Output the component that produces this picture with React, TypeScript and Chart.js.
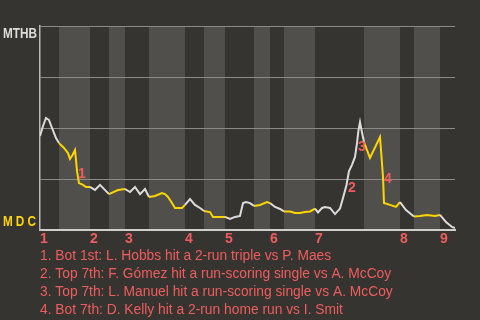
import React, { useEffect, useRef } from "react";
import { Chart, registerables } from "chart.js";

Chart.register(...registerables);

// Game progress (plate-appearance scale) and home-team win probability
const progress = [
  0, 0.6, 1.2, 1.8, 2.4, 3.2, 3.8, 4.8, 5.6, 6.0, 6.4, 7.0, 7.2, 7.4, 7.8, 8.6, 9.2, 10,
  11, 12, 13.8, 15.6, 17, 18, 19, 20, 21, 21.8, 23, 24.4, 25, 25.6, 26.4, 27, 28.4, 29,
  30, 31, 32, 32.8, 34, 34.6, 36, 37, 38, 39, 40, 40.6, 41.2, 42, 42.8, 44, 45.4, 46,
  47, 48, 48.8, 50, 51, 52, 53, 54, 55, 55.6, 56.4, 57, 58, 59, 60, 60.6, 61.3, 61.8,
  62.4, 63, 63.4, 63.7, 64, 64.3, 64.8, 66, 68, 68.2, 68.6, 68.8, 70, 71.2, 72, 73.2,
  74.8, 76, 77.4, 79, 80, 81.2, 82.4, 83,
];
const winProb = [
  0.461, 0.51, 0.549, 0.539, 0.5, 0.451, 0.426, 0.402, 0.377, 0.348, 0.363, 0.392, 0.343, 0.289, 0.23, 0.221, 0.211, 0.211,
  0.196, 0.221, 0.176, 0.196, 0.201, 0.186, 0.211, 0.176, 0.201, 0.162, 0.167, 0.181, 0.176, 0.162, 0.132, 0.108, 0.108, 0.123,
  0.152, 0.123, 0.108, 0.093, 0.088, 0.064, 0.064, 0.064, 0.054, 0.064, 0.069, 0.132, 0.137, 0.132, 0.118, 0.123, 0.137, 0.132,
  0.113, 0.103, 0.091, 0.091, 0.083, 0.083, 0.088, 0.091, 0.105, 0.086, 0.108, 0.113, 0.108, 0.078, 0.105, 0.157, 0.221, 0.289,
  0.319, 0.358, 0.426, 0.49, 0.529, 0.49, 0.431, 0.353, 0.456, 0.392, 0.26, 0.132, 0.123, 0.113, 0.137, 0.098,
  0.066, 0.069, 0.074, 0.069, 0.074, 0.039, 0.015, 0.01,
];

// Innings
const inningStart = [0, 10, 17, 29, 37, 46, 55, 72, 80];
const bottomStart = [3.8, 13.8, 21.8, 32.8, 42.8, 48.8, 64.8, 74.8];
const gameEnd = 83;

// Key events
const eventLabels = ["1", "2", "3", "4"];
const eventX = [8.4, 62.4, 64.4, 69.6];
const eventY = [0.275, 0.206, 0.407, 0.25];
const notes = [
  "1. Bot 1st: L. Hobbs hit a 2-run triple vs P. Maes",
  "2. Top 7th: F. Gómez hit a run-scoring single vs A. McCoy",
  "3. Top 7th: L. Manuel hit a run-scoring single vs A. McCoy",
  "4. Bot 7th: D. Kelly hit a 2-run home run vs I. Smit",
];
const teamTop = "MTHB";
const teamBottom = "MDC";

const BG = "#363430";
const BAND = "#504f4c";
const GRID = "#8b8a87";
const RED = "#ee5d5d";
const YELLOW = "#ffd500";
const WHITE = "#dcdcdc";

function isBottomHalf(v: number) {
  for (let i = 0; i < bottomStart.length; i++) {
    const end = i + 1 < inningStart.length ? inningStart[i + 1] : gameEnd;
    if (v >= bottomStart[i] && v < end) return true;
  }
  return false;
}

function condensedText(ctx: any, text: string, x: number, y: number, spacing: number) {
  ctx.save();
  ctx.translate(x, y);
  ctx.scale(0.785, 1);
  ctx.letterSpacing = spacing + "px";
  ctx.fillText(text, 0, 0);
  ctx.restore();
}

const decor = {
  id: "decor",
  beforeDraw(chart: any) {
    const { ctx, chartArea: a } = chart;
    const x = chart.scales.x;
    ctx.save();
    ctx.fillStyle = BG;
    ctx.fillRect(0, 0, chart.width, chart.height);
    ctx.fillStyle = BAND;
    bottomStart.forEach((b, i) => {
      const end = i + 1 < inningStart.length ? inningStart[i + 1] : gameEnd;
      const l = x.getPixelForValue(b);
      const r = x.getPixelForValue(end);
      ctx.fillRect(l, a.top, r - l, a.bottom - a.top);
    });
    ctx.restore();
  },
  afterDraw(chart: any) {
    const { ctx, chartArea: a } = chart;
    const x = chart.scales.x;
    const y = chart.scales.y;
    ctx.save();
    // event markers
    ctx.fillStyle = RED;
    ctx.font = 'bold 14px "Liberation Sans"';
    ctx.textAlign = "center";
    ctx.textBaseline = "middle";
    eventLabels.forEach((t, i) => {
      ctx.fillText(t, x.getPixelForValue(eventX[i]), y.getPixelForValue(eventY[i]));
    });
    // team labels
    ctx.textAlign = "left";
    ctx.textBaseline = "alphabetic";
    ctx.font = 'bold 15px "Liberation Sans"';
    ctx.fillStyle = WHITE;
    condensedText(ctx, teamTop, 3, a.top + 12, 0);
    ctx.fillStyle = YELLOW;
    condensedText(ctx, teamBottom, 3, a.bottom - 4, 3.9);
    // notes
    ctx.fillStyle = RED;
    ctx.font = '13.8px "Liberation Sans"';
    notes.forEach((n, i) => {
      ctx.fillText(n, a.left, a.bottom + 29.5 + i * 18);
    });
    ctx.restore();
  },
};

export default function App() {
  const ref = useRef<HTMLCanvasElement>(null);
  useEffect(() => {
    if (!ref.current) return;
    const chart = new Chart(ref.current, {
      type: "line",
      data: {
        datasets: [
          {
            data: progress.map((p, i) => ({ x: p, y: winProb[i] })),
            borderWidth: 2,
            pointRadius: 0,
            tension: 0,
            borderColor: WHITE,
            segment: {
              borderColor: (c: any) =>
                isBottomHalf((c.p0.parsed.x + c.p1.parsed.x) / 2) ? YELLOW : WHITE,
            },
          },
        ],
      },
      options: {
        animation: false,
        responsive: false,
        events: [],
        layout: { padding: { top: 26, right: 25, left: 0, bottom: 0 } },
        plugins: { legend: { display: false }, tooltip: { enabled: false } },
        scales: {
          x: {
            type: "linear",
            min: 0,
            max: gameEnd,
            afterBuildTicks: (s: any) => {
              s.ticks = inningStart.map((v) => ({ value: v }));
            },
            afterFit: (s: any) => {
              s.height = 90;
            },
            grid: { display: false, drawTicks: false },
            border: { display: true, color: "#cfcfcd", width: 2 },
            ticks: {
              align: "start",
              autoSkip: false,
              maxRotation: 0,
              padding: 1,
              color: RED,
              font: { family: "Liberation Sans", size: 14, weight: "bold" },
              callback: (v: any) => String(inningStart.indexOf(v) + 1),
            },
          },
          y: {
            min: 0,
            max: 1,
            afterFit: (s: any) => {
              s.width = 40;
            },
            ticks: { display: false, stepSize: 0.25 },
            grid: { color: GRID, lineWidth: 1, drawTicks: false },
            border: { display: true, color: "#b8b8b6", width: 1.5 },
          },
        },
      },
      plugins: [decor],
    });
    return () => chart.destroy();
  }, []);
  return (
    <div style={{ position: "fixed", left: 0, top: 0, width: 480, height: 320, background: BG }}>
      <canvas ref={ref} width={480} height={320} style={{ display: "block" }} />
    </div>
  );
}
